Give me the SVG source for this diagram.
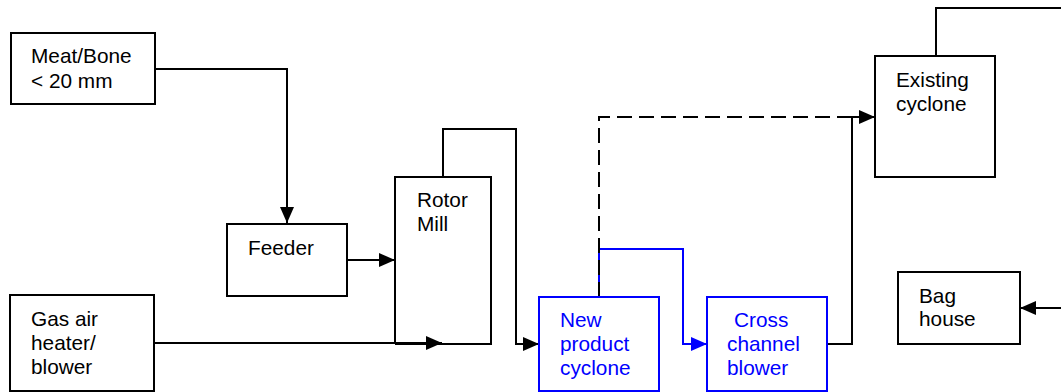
<svg xmlns="http://www.w3.org/2000/svg" width="1061" height="392" viewBox="0 0 1061 392">
<style>
.box{fill:#fff;stroke:#000;stroke-width:2}
.bbox{fill:#fff;stroke:#0000ff;stroke-width:2}
.t{font-family:"Liberation Sans",Arial,sans-serif;font-size:20.8px;fill:#000}
.bt{font-family:"Liberation Sans",Arial,sans-serif;font-size:20.8px;fill:#0000ff}
.ln{fill:none;stroke:#000;stroke-width:2}
.bln{fill:none;stroke:#0000ff;stroke-width:2}
.dash{fill:none;stroke:#000;stroke-width:2;stroke-dasharray:15 7}
</style>
<defs>
<marker id="ah" markerUnits="userSpaceOnUse" markerWidth="16" markerHeight="14" refX="16" refY="7" orient="auto"><path d="M0,0 L16,7 L0,14 z" fill="#000"/></marker>
<marker id="bah" markerUnits="userSpaceOnUse" markerWidth="16" markerHeight="14" refX="16" refY="7" orient="auto"><path d="M0,0 L16,7 L0,14 z" fill="#0000ff"/></marker>
</defs>
<rect width="1061" height="392" fill="#fff"/>
<g id="connectors">
<path class="ln" d="M155,69 H287 V223" marker-end="url(#ah)"/>
<path class="ln" d="M347,260 H395" marker-end="url(#ah)"/>
<path class="ln" d="M154,343 H442" marker-end="url(#ah)"/>
<path class="ln" d="M443,177 V129 H516 V344 H539" marker-end="url(#ah)"/>
<path class="bln" d="M599,297 V249 H683 V344 H707" marker-end="url(#bah)"/>
<path class="dash" d="M599,297 V117 H852"/>
<path class="ln" d="M827,344 H852 V117 H875" marker-end="url(#ah)"/>
<path class="ln" d="M936,56 V8 H1062"/>
<path class="ln" d="M1062,308 H1020" marker-end="url(#ah)"/>
</g>
<g id="meat-bone">
<rect class="box" x="11" y="33" width="144" height="71"/>
<text class="t" x="31" y="63">Meat/Bone</text>
<text class="t" x="31" y="88">&lt; 20 mm</text>
</g>
<g id="feeder">
<rect class="box" x="227" y="224" width="120" height="72"/>
<text class="t" x="248" y="255">Feeder</text>
</g>
<g id="gas-air-heater">
<rect class="box" x="10" y="295" width="144" height="96"/>
<text class="t" x="31" y="326">Gas air</text>
<text class="t" x="31" y="350">heater/</text>
<text class="t" x="31" y="374">blower</text>
</g>
<g id="rotor-mill">
<path class="ln" d="M395,344 V177 H491 V344 H395"/>
<text class="t" x="417" y="207">Rotor</text>
<text class="t" x="417" y="231">Mill</text>
</g>
<g id="new-product-cyclone">
<rect class="bbox" x="539" y="297" width="120" height="94"/>
<text class="bt" x="560" y="327">New</text>
<text class="bt" x="560" y="351">product</text>
<text class="bt" x="560" y="375">cyclone</text>
</g>
<g id="cross-channel-blower">
<rect class="bbox" x="707" y="297" width="120" height="94"/>
<text class="bt" x="734" y="327">Cross</text>
<text class="bt" x="727" y="351">channel</text>
<text class="bt" x="727" y="375">blower</text>
</g>
<g id="existing-cyclone">
<rect class="box" x="875" y="56" width="120" height="121"/>
<text class="t" x="896" y="87">Existing</text>
<text class="t" x="896" y="111">cyclone</text>
</g>
<g id="bag-house">
<rect class="box" x="898" y="272" width="122" height="72"/>
<text class="t" x="919" y="303">Bag</text>
<text class="t" x="919" y="326">house</text>
</g>
</svg>
